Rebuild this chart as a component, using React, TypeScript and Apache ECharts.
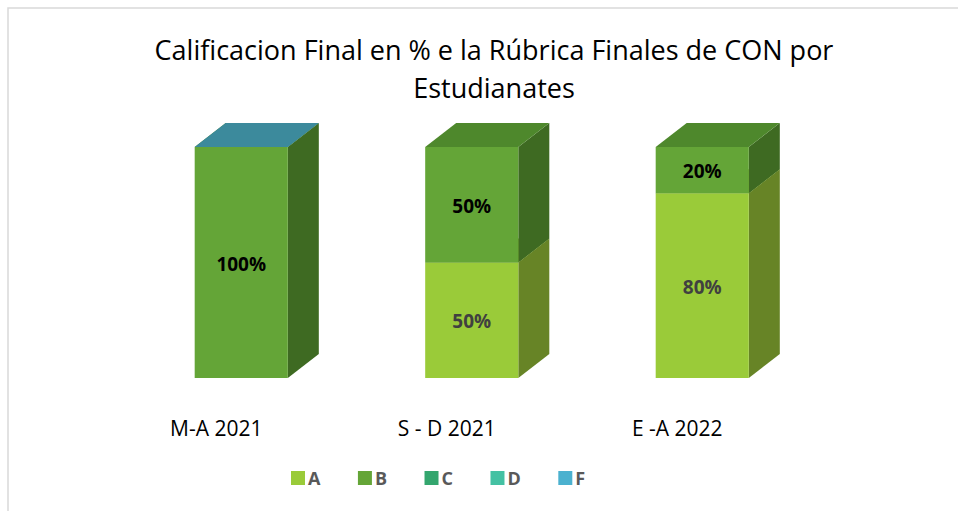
import React, { useEffect, useRef } from "react";
import * as echarts from "echarts";

const categories = ["M-A 2021", "S - D 2021", "E -A 2022"];
const seriesNames = ["A", "B", "C", "D", "F"];
const valuesA: (number | null)[] = [null, 50, 80];
const valuesB: (number | null)[] = [100, 50, 20];
const valuesC: (number | null)[] = [null, null, null];
const valuesD: (number | null)[] = [null, null, null];
const valuesF: (number | null)[] = [0, null, null];
const allValues = [valuesA, valuesB, valuesC, valuesD, valuesF];

const frontColors = ["#9ACB39", "#64A537", "#33A66E", "#44C1A3", "#4BB1CF"];
const sideColors = ["#678426", "#3E6A22", "#21704A", "#2D846F", "#32798E"];
const topColors = ["#7FA82F", "#4E882C", "#2A8A5B", "#37A088", "#3C8A9C"];
const labelColors = ["#404040", "#000000", "#000000", "#000000", "#000000"];

const DX = 31;
const DY = -24;

export default function App() {
  const ref = useRef<HTMLDivElement>(null);
  useEffect(() => {
    if (!ref.current) return;
    const chart = echarts.init(ref.current, null, { renderer: "svg" });

    const series = seriesNames.map((name, si) => {
      const vals = allValues[si];
      const data = vals.map((v, i) => {
        let base = 0;
        for (let k = 0; k < si; k++) base += allValues[k][i] ?? 0;
        return [i, base, v];
      });
      return {
        name,
        type: "custom",
        data: data.filter((d) => d[2] !== null),
        itemStyle: { color: frontColors[si] },
        renderItem: (params: any, api: any) => {
          const idx = api.value(0);
          const base = api.value(1);
          const v = api.value(2);
          const bw = api.size([1, 0])[0] * 0.404;
          const p0 = api.coord([idx, base]);
          const p1 = api.coord([idx, base + v]);
          const x0 = p0[0] - bw / 2;
          const x1 = p0[0] + bw / 2;
          const yb = p0[1];
          const yt = p1[1];
          const children: any[] = [];
          if (v > 0) {
            children.push({
              type: "polygon",
              shape: { points: [[x1, yb], [x1 + DX, yb + DY], [x1 + DX, yt + DY], [x1, yt]] },
              style: { fill: sideColors[si] },
            });
            children.push({
              type: "rect",
              shape: { x: x0, y: yt, width: bw, height: yb - yt },
              style: { fill: frontColors[si] },
            });
          }
          children.push({
            type: "polygon",
            shape: { points: [[x0, yt], [x0 + DX, yt + DY], [x1 + DX, yt + DY], [x1, yt]] },
            style: { fill: topColors[si] },
          });
          if (v > 0) {
            children.push({
              type: "text",
              x: (x0 + x1) / 2,
              y: (yt + yb) / 2 + 1,
              style: {
                text: v + "%",
                fill: labelColors[si],
                font: "bold 19px 'Open Sans', sans-serif",
                align: "center",
                verticalAlign: "middle",
              },
            });
          }
          return { type: "group", children };
        },
      };
    });

    chart.setOption({
      animation: false,
      title: {
        text: "Calificacion Final en % e la Rúbrica Finales de CON por\nEstudianates",
        left: 489,
        top: 25,
        textAlign: "center",
        textStyle: {
          fontFamily: "'Open Sans', sans-serif",
          fontSize: 27,
          fontWeight: "normal",
          color: "#000000",
          lineHeight: 38,
        },
      },
      graphic: [
        {
          type: "rect",
          shape: { x: 8, y: 8, width: 1000, height: 600 },
          style: { fill: "none", stroke: "#D9D9D9", lineWidth: 1.5 },
          silent: true,
        },
      ],
      legend: {
        data: seriesNames.map((n, i) => ({ name: n, itemStyle: { color: frontColors[i] } })),
        top: 464,
        left: 286,
        itemGap: 37.5,
        itemWidth: 14,
        itemHeight: 14,
        icon: "rect",
        textStyle: {
          fontFamily: "'Open Sans', sans-serif",
          fontWeight: "bold",
          fontSize: 18,
          color: "#595959",
          padding: [0, 0, 0, -2],
        },
      },
      grid: { left: 126, top: 147, width: 691.5, height: 231 },
      xAxis: {
        type: "category",
        data: categories,
        axisLine: { show: false },
        axisTick: { show: false },
        axisLabel: {
          margin: 39,
          fontFamily: "'Open Sans', sans-serif",
          fontSize: 21,
          color: "#000000",
          padding: [0, 50, 0, 0],
        },
      },
      yAxis: {
        type: "value",
        min: 0,
        max: 100,
        show: false,
        splitLine: { show: false },
      },
      series,
    });
    return () => chart.dispose();
  }, []);
  return (
    <div
      ref={ref}
      style={{ position: "fixed", left: 0, top: 0, width: 958, height: 511, background: "#fff" }}
    />
  );
}
